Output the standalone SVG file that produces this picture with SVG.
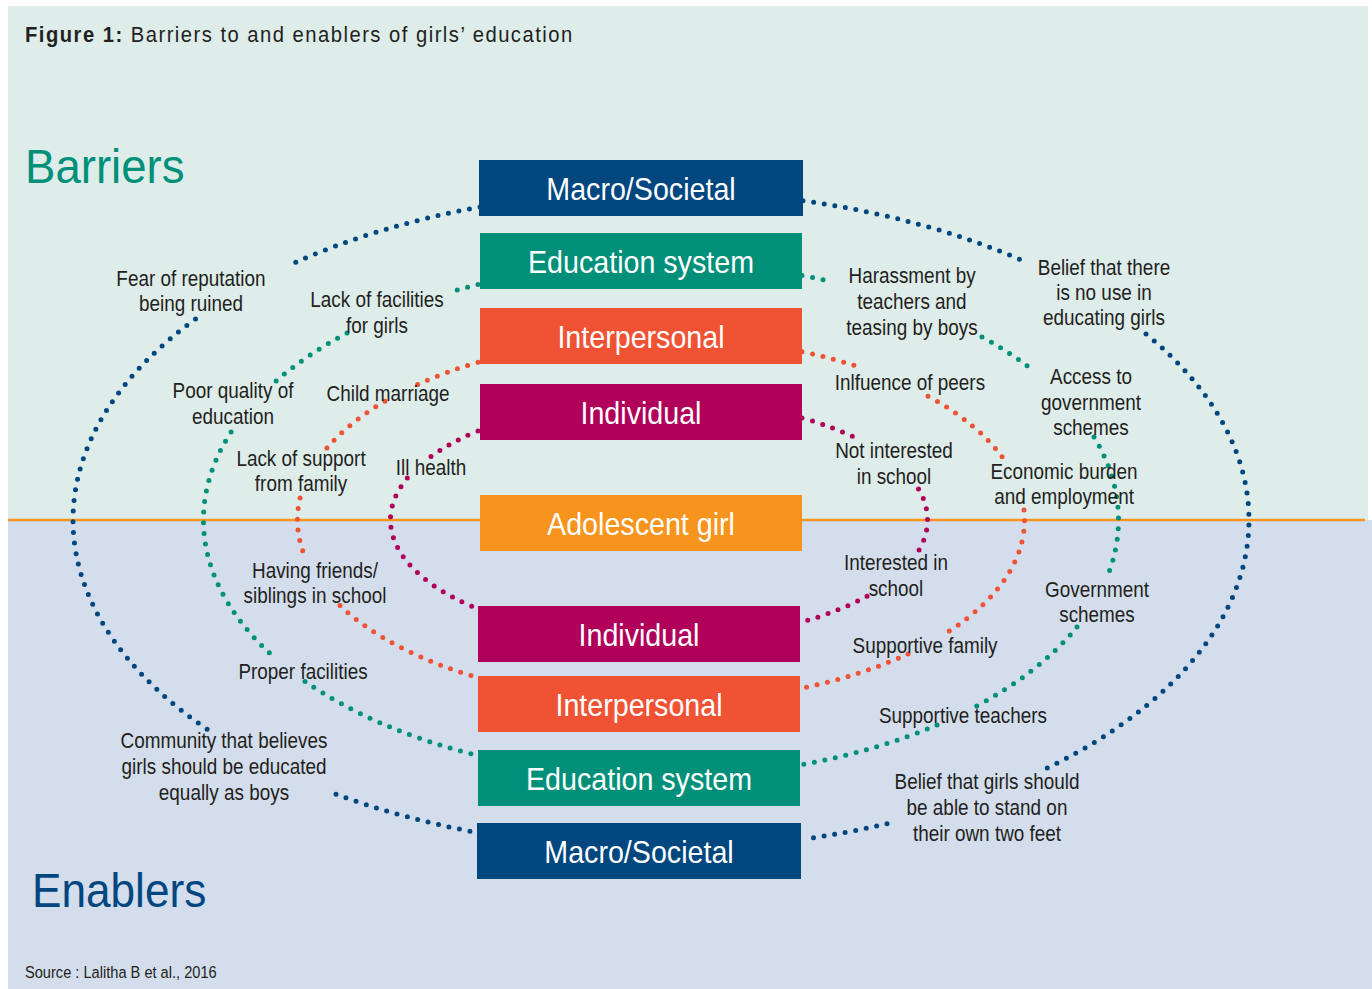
<svg xmlns="http://www.w3.org/2000/svg" width="1372" height="989" viewBox="0 0 1372 989">
  <style>
    text { font-family: "Liberation Sans Narrow", "Liberation Sans", Arial, sans-serif; transform-box: fill-box; }
    .lbl { font-size: 22px; fill: #231f20; text-anchor: middle; transform: scaleX(0.86); transform-origin: center; }
    .box-text { font-size: 32px; fill: #ffffff; text-anchor: middle; transform: scaleX(0.895); transform-origin: center; }
    .title { font-size: 22px; letter-spacing: 1.6px; fill: #231f20; transform: scaleX(0.92); transform-origin: left center; }
    .side { font-size: 48px; transform-origin: left center; }
    .source { font-size: 17px; fill: #231f20; transform: scaleX(0.86); transform-origin: left center; }
    .dots { fill: none; stroke-width: 5; stroke-linecap: round; stroke-dasharray: 0 10.7; }
    .c-macro { stroke: #00467f; }
    .c-edu { stroke: #009079; }
    .c-inter { stroke: #f05234; }
    .c-indiv { stroke: #b0005a; }
    .f-macro { fill: #00467f; }
    .f-edu { fill: #009079; }
    .f-inter { fill: #f05234; }
    .f-indiv { fill: #b0005a; }
    .f-girl { fill: #f7941d; }
  </style>

  <!-- page background: barriers half on top, enablers half below -->
  <rect x="0" y="0" width="1372" height="989" fill="#ffffff"/>
  <rect x="8" y="6" width="1360" height="514" fill="#deecea"/>
  <rect x="8" y="520" width="1364" height="469" fill="#d3ddec"/>
  <line x1="8" y1="520" x2="1365" y2="520" stroke="#f7941d" stroke-width="2.5"/>

  <text class="title" x="25" y="42"><tspan font-weight="bold">Figure 1:</tspan> Barriers to and enablers of girls’ education</text>
  <text class="side" x="25" y="183" fill="#009079" style="transform: scaleX(0.95)">Barriers</text>
  <text class="side" x="32" y="907" fill="#00467f" style="transform: scaleX(0.92)">Enablers</text>
  <text class="source" x="25" y="978">Source : Lalitha B et al., 2016</text>

  <!-- dotted elliptical rings linking each level's barrier box to its enabler box -->
  <g id="connectors">
    <g class="dots c-macro">
      <path d="M480,207 A588,329 0 0 0 290,264.8"/>
      <path d="M195.5,319 A588,329 0 0 0 208.4,730"/>
      <path d="M336,794.2 A588,329 0 0 0 477,832.5"/>
      <path d="M803,200.7 A588,329 0 0 1 1025,261.6"/>
      <path d="M1146,334 A588,329 0 0 1 1045.3,769"/>
      <path d="M887,823.7 A588,329 0 0 1 803,839.3"/>
    </g>
    <g class="dots c-edu">
      <path d="M478,284.5 A457.5,257 0 0 0 452,291.4"/>
      <path d="M347,333.1 A457.5,257 0 0 0 273,383.8"/>
      <path d="M231.1,432 A457.5,257 0 0 0 275,658"/>
      <path d="M305,681.4 A457.5,257 0 0 0 476,755"/>
      <path d="M802,275.5 A457.5,257 0 0 1 828,280.7"/>
      <path d="M982,336.9 A457.5,257 0 0 1 1028,366.5"/>
      <path d="M1094,437 A457.5,257 0 0 1 1106.7,578"/>
      <path d="M1077,627 A457.5,257 0 0 1 976,706.4"/>
      <path d="M937,725 A457.5,257 0 0 1 802,764.5"/>
    </g>
    <g class="dots c-inter">
      <path d="M478,362.3 A363.5,182.5 0 0 0 414,386.1"/>
      <path d="M385,401.2 A363.5,182.5 0 0 0 325,450.4"/>
      <path d="M300.1,498 A363.5,182.5 0 0 0 303.5,553"/>
      <path d="M340,605.6 A363.5,182.5 0 0 0 478,677.7"/>
      <path d="M802,351.8 A363.5,182.5 0 0 1 857,366.3"/>
      <path d="M928,396.2 A363.5,182.5 0 0 1 1004,459.6"/>
      <path d="M1024,510 A363.5,182.5 0 0 1 947,632.6"/>
      <path d="M908,653.9 A363.5,182.5 0 0 1 802,688.2"/>
    </g>
    <g class="dots c-indiv">
      <path d="M478,431 A268.5,120.5 0 0 0 430,457.1"/>
      <path d="M407.3,478 A268.5,120.5 0 0 0 478,609"/>
      <path d="M802,418 A268.5,120.5 0 0 1 861,440.6"/>
      <path d="M918.5,489 A268.5,120.5 0 0 1 917.9,552"/>
      <path d="M867,596.2 A268.5,120.5 0 0 1 802,622"/>
    </g>
  </g>

  <!-- factor labels along the rings -->
  <g id="labels">
    <text class="lbl" x="191" y="286">Fear of reputation</text>
    <text class="lbl" x="191" y="311">being ruined</text>
    <text class="lbl" x="377" y="307">Lack of facilities</text>
    <text class="lbl" x="377" y="333">for girls</text>
    <text class="lbl" x="233" y="398">Poor quality of</text>
    <text class="lbl" x="233" y="424">education</text>
    <text class="lbl" x="388" y="401">Child marriage</text>
    <text class="lbl" x="301" y="466">Lack of support</text>
    <text class="lbl" x="301" y="491">from family</text>
    <text class="lbl" x="431" y="475">Ill health</text>
    <text class="lbl" x="912" y="283">Harassment by</text>
    <text class="lbl" x="912" y="309">teachers and</text>
    <text class="lbl" x="912" y="335">teasing by boys</text>
    <text class="lbl" x="1104" y="275">Belief that there</text>
    <text class="lbl" x="1104" y="300">is no use in</text>
    <text class="lbl" x="1104" y="325">educating girls</text>
    <text class="lbl" x="910" y="390">Inlfuence of peers</text>
    <text class="lbl" x="1091" y="384">Access to</text>
    <text class="lbl" x="1091" y="410">government</text>
    <text class="lbl" x="1091" y="435">schemes</text>
    <text class="lbl" x="894" y="458">Not interested</text>
    <text class="lbl" x="894" y="484">in school</text>
    <text class="lbl" x="1064" y="479">Economic burden</text>
    <text class="lbl" x="1064" y="504">and employment</text>
    <text class="lbl" x="896" y="570">Interested in</text>
    <text class="lbl" x="896" y="596">school</text>
    <text class="lbl" x="315" y="578">Having friends/</text>
    <text class="lbl" x="315" y="603">siblings in school</text>
    <text class="lbl" x="1097" y="597">Government</text>
    <text class="lbl" x="1097" y="622">schemes</text>
    <text class="lbl" x="925" y="653">Supportive family</text>
    <text class="lbl" x="303" y="679">Proper facilities</text>
    <text class="lbl" x="963" y="723">Supportive teachers</text>
    <text class="lbl" x="224" y="748">Community that believes</text>
    <text class="lbl" x="224" y="774">girls should be educated</text>
    <text class="lbl" x="224" y="800">equally as boys</text>
    <text class="lbl" x="987" y="789">Belief that girls should</text>
    <text class="lbl" x="987" y="815">be able to stand on</text>
    <text class="lbl" x="987" y="841">their own two feet</text>
  </g>

  <!-- level boxes: barriers above the girl, enablers below -->
  <g id="macro-barrier"><rect class="f-macro" x="479" y="160" width="324" height="56"/><text class="box-text" x="641" y="200.5">Macro/Societal</text></g>
  <g id="education-barrier"><rect class="f-edu" x="480" y="233" width="322" height="56"/><text class="box-text" x="641" y="273.5">Education system</text></g>
  <g id="interpersonal-barrier"><rect class="f-inter" x="480" y="308" width="322" height="56"/><text class="box-text" x="641" y="348.5">Interpersonal</text></g>
  <g id="individual-barrier"><rect class="f-indiv" x="480" y="384" width="322" height="56"/><text class="box-text" x="641" y="424.5">Individual</text></g>
  <g id="adolescent-girl"><rect class="f-girl" x="480" y="495" width="322" height="56"/><text class="box-text" x="641" y="535.5">Adolescent girl</text></g>
  <g id="individual-enabler"><rect class="f-indiv" x="478" y="606" width="322" height="56"/><text class="box-text" x="639" y="646.5">Individual</text></g>
  <g id="interpersonal-enabler"><rect class="f-inter" x="478" y="676" width="322" height="56"/><text class="box-text" x="639" y="716.5">Interpersonal</text></g>
  <g id="education-enabler"><rect class="f-edu" x="478" y="750" width="322" height="56"/><text class="box-text" x="639" y="790.5">Education system</text></g>
  <g id="macro-enabler"><rect class="f-macro" x="477" y="823" width="324" height="56"/><text class="box-text" x="639" y="863.5">Macro/Societal</text></g>
</svg>
